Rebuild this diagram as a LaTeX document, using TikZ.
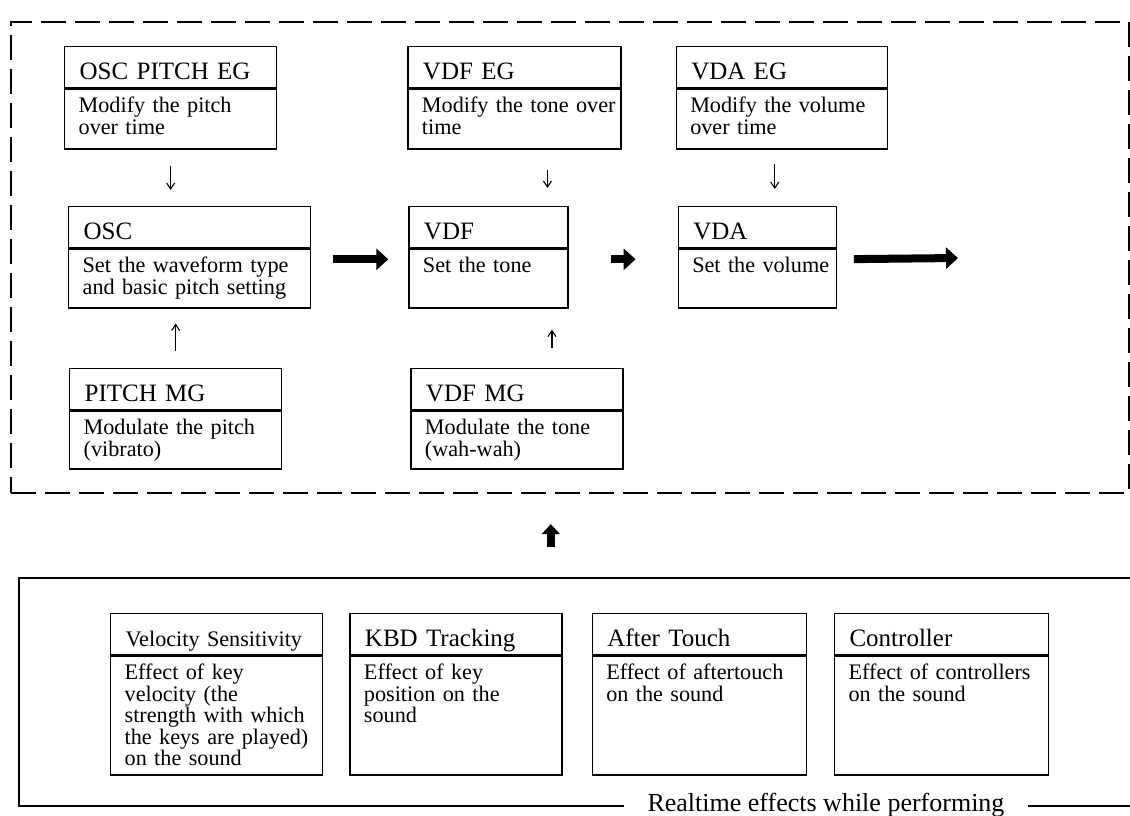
\documentclass[tikz,border=0pt]{standalone}
\usepackage{fontspec}
\setmainfont{Liberation Serif}
\usetikzlibrary{positioning}
\usetikzlibrary{arrows.meta}

\newcommand\hdfont{\fontsize{25}{27}\selectfont}
\newcommand\bdfont{\fontsize{22.2}{21.5}\selectfont}
\newcommand\rtfont{\fontsize{26}{28}\selectfont}

\tikzset{
  hd/.style={draw, line width=1.3pt, inner sep=0pt, text width=#1, align=left,
    font=\hdfont, text height=33pt, text depth=8pt,
    execute at begin node={\leftskip=15pt}},
  bd/.style={draw, line width=1.3pt, inner sep=0pt, text width=#1, align=left,
    font=\bdfont, text height=24pt,
    execute at begin node={\leftskip=14pt}},
  dashframe/.style={draw, line width=2.2pt, dash pattern=on 25pt off 9pt, inner sep=0pt},
  solidframe/.style={draw, line width=1.6pt, inner sep=0pt},
  fatarr/.style={line width=8pt, -{Triangle[length=12pt,width=21pt]}},
  thinarr/.style={line width=1.1pt, -{Straight Barb[length=6pt,width=8pt]}},
}

\begin{document}
\begin{tikzpicture}[x=1pt, y=-1pt]
    \useasboundingbox (0,0) rectangle (1130,816);
    % frames
    \node[dashframe, anchor=north west, minimum width=1118pt, minimum height=471pt] (synth) at (10,21) {};
    \node[solidframe, anchor=north west, minimum width=1130pt, minimum height=228pt] (rt) at (18,577) {};
    \node[fill=white, inner xsep=24pt, inner ysep=2pt, font=\rtfont] (rtlabel) at (826,805) {Realtime effects while performing};
    % EG row
    \node[hd=212pt, anchor=north west] (osceg-h) at (64,46) {OSC PITCH EG};
    \node[bd=212pt, text depth=36pt, below=0pt of osceg-h] (osceg-b) {Modify the pitch\\over time};
    \node[hd=213pt, right=130pt of osceg-h] (vdfeg-h) {VDF EG};
    \node[bd=213pt, text depth=36pt, below=0pt of vdfeg-h] (vdfeg-b) {Modify the tone over\\time};
    \node[hd=211pt, right=54pt of vdfeg-h] (vdaeg-h) {VDA EG};
    \node[bd=211pt, text depth=36pt, below=0pt of vdaeg-h] (vdaeg-b) {Modify the volume\\over time};
    % OSC / VDF / VDA
    \node[hd=242pt, anchor=north west] (osc-h) at (68,206) {OSC};
    \node[bd=242pt, text depth=35pt, below=0pt of osc-h] (osc-b) {Set the waveform type\\and basic pitch setting};
    \node[hd=159pt, right=97pt of osc-h] (vdf-h) {VDF};
    \node[bd=159pt, text depth=35pt, below=0pt of vdf-h] (vdf-b) {Set the tone};
    \node[hd=158pt, right=109pt of vdf-h] (vda-h) {VDA};
    \node[bd=158pt, text depth=35pt, below=0pt of vda-h] (vda-b) {Set the volume};
    % MG row
    \node[hd=212pt, anchor=north west] (pitchmg-h) at (69,368) {PITCH MG};
    \node[bd=212pt, text depth=34pt, below=0pt of pitchmg-h] (pitchmg-b) {Modulate the pitch\\(vibrato)};
    \node[hd=212pt, right=128pt of pitchmg-h] (vdfmg-h) {VDF MG};
    \node[bd=212pt, text depth=34pt, below=0pt of vdfmg-h] (vdfmg-b) {Modulate the tone\\(wah-wah)};
    % realtime effects
    \node[hd=212pt, font=\bdfont, anchor=north west] (vel-h) at (110,613) {Velocity Sensitivity};
    \node[bd=212pt, text depth=95pt, below=0pt of vel-h] (vel-b) {Effect of key\\velocity (the\\strength with which\\the keys are played)\\on the sound};
    \node[hd=212pt, right=26pt of vel-h] (kbd-h) {KBD Tracking};
    \node[bd=212pt, text depth=95pt, below=0pt of kbd-h] (kbd-b) {Effect of key\\position on the\\sound};
    \node[hd=214pt, right=29pt of kbd-h] (at-h) {After Touch};
    \node[bd=214pt, text depth=95pt, below=0pt of at-h] (at-b) {Effect of aftertouch\\on the sound};
    \node[hd=214pt, right=27pt of at-h] (ctl-h) {Controller};
    \node[bd=214pt, text depth=95pt, below=0pt of ctl-h] (ctl-b) {Effect of controllers\\on the sound};
    \coordinate (out) at (958,258);
    % signal flow
    \draw[fatarr, shorten <=22pt, shorten >=20pt] ([yshift=-11pt]osc-h.south east) -- ([yshift=-11pt]osc-h.south east -| vdf-h.west);
    \draw[fatarr, shorten <=42pt, shorten >=42pt] ([yshift=-11pt]vdf-h.south east) -- ([yshift=-11pt]vdf-h.south east -| vda-h.west);
    \draw[fatarr, shorten <=17pt] ([yshift=-11pt]vda-h.south east) -- (out);
    \draw[fatarr, -{Triangle[length=10pt,width=18pt]}, shorten <=30pt, shorten >=30pt] ([xshift=-33pt]rt.north) -- ([xshift=-33pt]rt.north |- synth.south);
    % modulation
    \draw[thinarr, shorten <=16pt, shorten >=16pt] (osceg-b.south) -- (osceg-b.south |- osc-h.north);
    \draw[thinarr, shorten <=20pt, shorten >=18pt] ([xshift=33pt]vdfeg-b.south) -- ([xshift=33pt]vdfeg-b.south |- vdf-h.north);
    \draw[thinarr, shorten <=14pt, shorten >=17pt] ([xshift=-7pt]vdaeg-b.south) -- ([xshift=-7pt]vdaeg-b.south |- vda-h.north);
    \draw[thinarr, shorten <=17pt, shorten >=15pt] (pitchmg-h.north) -- (pitchmg-h.north |- osc-b.south);
    \draw[thinarr, shorten <=20pt, shorten >=21pt] ([xshift=35pt]vdfmg-h.north) -- ([xshift=35pt]vdfmg-h.north |- vdf-b.south);
\end{tikzpicture}
\end{document}
